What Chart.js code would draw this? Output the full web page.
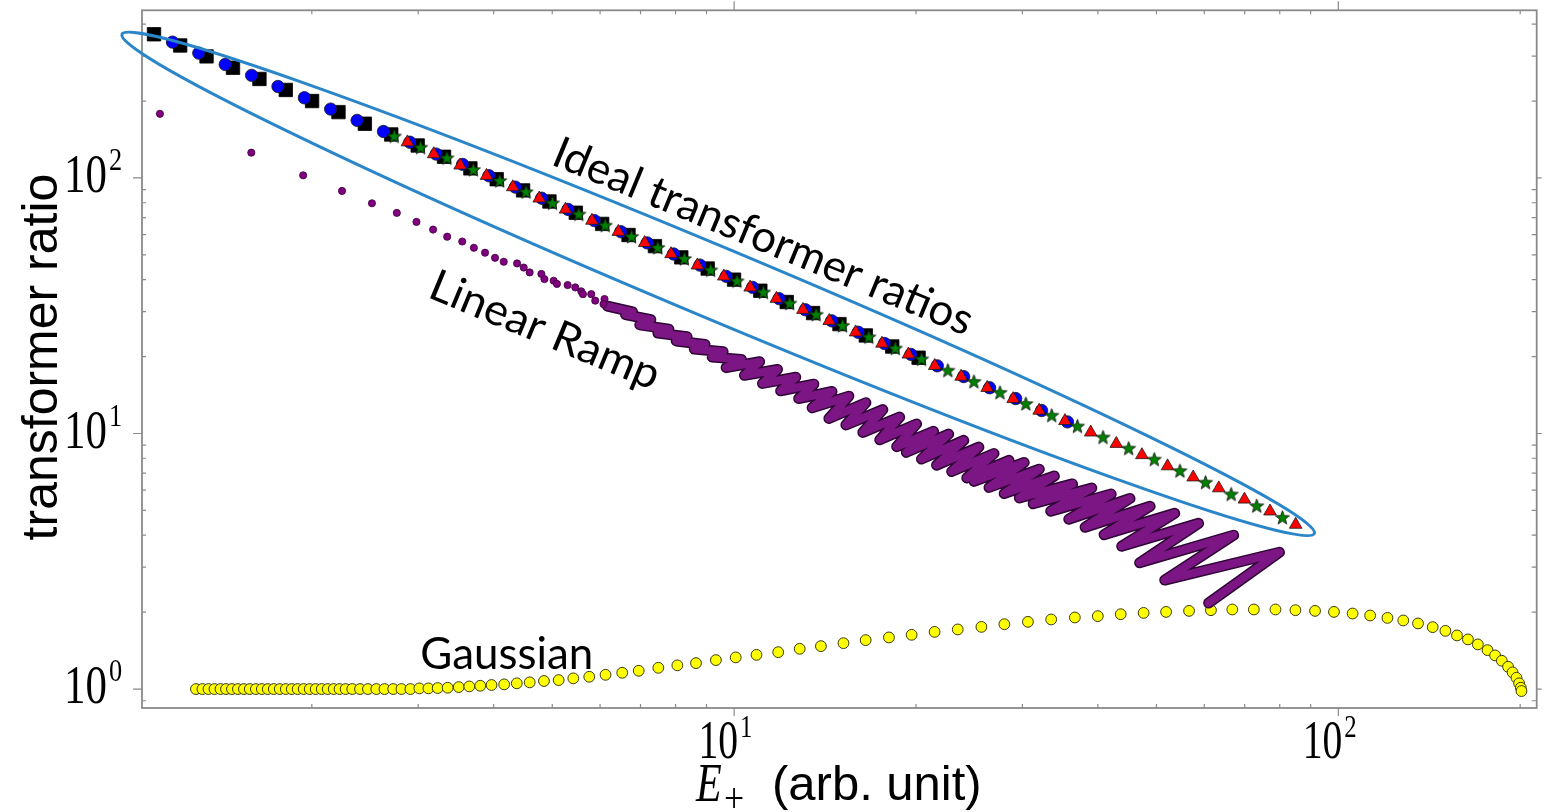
<!DOCTYPE html>
<html>
<head>
<meta charset="utf-8">
<script src="https://cdn.jsdelivr.net/npm/chart.js@4.4.1/dist/chart.umd.min.js"></script>
<style>
  html, body { margin: 0; padding: 0; background: #fff; overflow: hidden; }
  canvas { display: block; }
</style>
</head>
<body>
<canvas id="chart" width="1547" height="812"></canvas>
<script>
/* transformer ratio vs E+ (log-log): ideal pulses, linear ramp, gaussian */

// ── ideal transformer ratios (four pulse shapes) ──
const squareE = [1.096, 1.211, 1.339, 1.481, 1.638, 1.811, 2.002, 2.214, 2.448, 2.707, 2.994, 3.310, 3.660, 4.046, 4.474,
  4.947, 5.470, 6.048, 6.687, 7.395, 8.176, 9.042, 9.996, 11.05, 12.22, 13.51, 14.94, 16.52, 18.27, 20.20];
const squareR = [365, 330, 299, 270, 244, 221, 200, 181, 163, 148, 134, 121, 109, 98.9, 89.4,
  80.9, 73.1, 66.1, 59.8, 54.1, 48.9, 44.2, 40.0, 36.2, 32.7, 29.6, 26.8, 24.2, 21.9, 19.8];

const circleE = [1.176, 1.300, 1.438, 1.590, 1.758, 1.944, 2.149, 2.377, 2.628, 2.906, 3.213, 3.553, 3.929, 4.344, 4.803,
  5.311, 5.872, 6.494, 7.180, 7.939, 8.779, 9.706, 10.73, 11.87, 13.12, 14.51, 16.05, 17.74, 19.62, 21.69,
  23.98, 26.48, 29.24, 32.28, 35.62];
const circleR = [340, 308, 278, 252, 228, 206, 186, 168, 152, 138, 124, 113, 102, 92.1, 83.3,
  75.3, 68.1, 61.6, 55.7, 50.4, 45.6, 41.2, 37.3, 33.7, 30.5, 27.6, 24.9, 22.5, 20.4, 18.4,
  16.7, 15.1, 13.7, 12.3, 11.1];

const triE = [2.879, 3.183, 3.520, 3.892, 4.302, 4.758, 5.260, 5.817, 6.432, 7.112, 7.863, 8.694, 9.614, 10.63, 11.75,
  13.00, 14.37, 15.89, 17.57, 19.43, 21.48, 23.75, 26.23, 28.96, 31.98, 35.28, 38.92, 42.91, 47.31, 52.17,
  57.52, 63.41, 69.93, 77.09, 85.01];
const triR = [138, 124, 112, 102, 92.1, 83.2, 75.3, 68.1, 61.6, 55.7, 50.4, 45.5, 41.2, 37.3, 33.7,
  30.5, 27.6, 24.9, 22.5, 20.4, 18.4, 16.7, 15.1, 13.65, 12.3, 11.2, 10.1, 9.12, 8.24, 7.45,
  6.74, 6.11, 5.52, 4.96, 4.40];

const starE = [2.738, 3.027, 3.347, 3.701, 4.093, 4.525, 5.004, 5.533, 6.118, 6.765, 7.478, 8.271, 9.145, 10.11, 11.18,
  12.36, 13.67, 15.12, 16.71, 18.48, 20.43, 22.58, 24.94, 27.54, 30.40, 33.55, 37.00, 40.79, 44.98, 49.59,
  54.68, 60.29, 66.48, 73.28, 80.81];
const starR = [146, 132, 120, 108, 97.7, 88.4, 79.9, 72.3, 65.4, 59.1, 53.5, 48.4, 43.7, 39.6, 35.8,
  32.4, 29.3, 26.5, 23.9, 21.6, 19.6, 17.7, 16.0, 14.5, 13.1, 11.8, 10.7, 9.69, 8.77, 7.94,
  7.16, 6.45, 5.80, 5.22, 4.70];

// ── linear ramp: separate dots, then the dense oscillating band (turning points) ──
const rampE = [1.121, 1.588, 1.935, 2.244, 2.515, 2.765, 2.98, 3.175, 3.35, 3.548, 3.709, 3.87, 4.02, 4.156, 4.373,
  4.485, 4.588, 4.797, 4.853, 5.027, 5.090, 5.302, 5.459, 5.585, 5.620, 5.801, 5.890, 6.102, 6.078];
const rampR = [178.3, 125.6, 102.4, 89.0, 79.6, 73.0, 67.3, 62.8, 58.9, 56.4, 53.3, 51.0, 48.7, 47.0, 46.3,
  44.6, 42.7, 42.1, 40.2, 39.6, 38.5, 38.1, 37.3, 36.0, 35.1, 35.1, 33.1, 33.6, 32.1];

const bandE = [6.17, 6.79, 6.61, 7.28, 6.98, 7.80, 7.48, 8.36, 8.02, 8.95, 8.59, 9.59, 9.20, 10.28, 9.70,
  11.02, 10.40, 11.80, 11.14, 12.65, 11.94, 13.55, 12.79, 14.52, 13.46, 15.49, 14.35, 16.52, 15.31, 17.62,
  16.33, 18.79, 17.42, 20.04, 18.58, 21.38, 19.28, 22.65, 20.42, 23.99, 21.63, 25.41, 22.91, 26.92, 24.27,
  28.51, 24.95, 30.20, 26.42, 31.99, 27.99, 33.88, 29.65, 36.31, 31.26, 39.08, 33.42, 42.07, 35.8, 45.2,
  38.1, 48.8, 40.95, 53.6, 43.8, 58.7, 46.9, 67.1, 51.6, 79.9, 61.0];
const bandR = [31.5, 29.9, 29.2, 27.9, 26.6, 25.6, 24.7, 23.9, 23.0, 22.3, 21.4, 20.9, 19.9, 19.5, 18.1,
  19.1, 16.9, 17.8, 15.7, 16.6, 14.7, 15.6, 13.7, 14.6, 12.6, 14.0, 11.45, 13.2, 10.8, 12.4,
  10.1, 11.6, 9.45, 10.9, 8.88, 10.2, 8.44, 9.95, 7.95, 9.40, 7.52, 8.85, 7.10, 8.35, 6.70,
  7.85, 6.50, 7.70, 6.15, 7.25, 5.82, 6.82, 5.60, 6.35, 5.31, 6.12, 4.97, 5.80, 4.62, 5.57,
  4.30, 5.19, 4.02, 4.87, 3.62, 4.45, 3.12, 4.00, 2.67, 3.43, 2.17];

// ── gaussian ──
const gaussE = [1.286, 1.318, 1.349, 1.380, 1.412, 1.442, 1.475, 1.509, 1.544, 1.579, 1.616, 1.653, 1.691, 1.730, 1.770,
  1.811, 1.853, 1.895, 1.939, 1.984, 2.030, 2.077, 2.125, 2.174, 2.223, 2.275, 2.333, 2.403, 2.477, 2.557,
  2.638, 2.727, 2.814, 2.912, 3.013, 3.119, 3.231, 3.356, 3.501, 3.645, 3.800, 3.967, 4.163, 4.368, 4.588,
  4.845, 5.124, 5.418, 5.757, 6.126, 6.528, 6.952, 7.491, 8.054, 8.648, 9.329, 10.06, 10.89, 11.83, 12.84,
  13.92, 15.17, 16.51, 18.04, 19.67, 21.47, 23.45, 25.66, 28.01, 30.64, 33.48, 36.64, 39.99, 43.64, 47.62,
  51.88, 56.62, 61.55, 66.77, 72.48, 78.70, 84.92, 91.52, 98.37, 105.6, 112.9, 120.6, 128.1, 135.5, 143.3,
  150.4, 157.2, 163.9, 170.2, 176.6, 181.8, 186.5, 191.0, 194.3, 197.2, 199.2, 200.5, 201.0];
const gaussR = [1.0, 1.0, 1.0, 1.0, 1.0, 1.0, 1.0, 1.0, 1.0, 1.0, 1.0, 1.0, 1.0, 1.0, 1.0,
  1.0, 1.0, 1.0, 1.0, 1.0, 1.0, 1.0, 1.0, 1.0, 1.0, 1.0, 1.0, 1.0, 1.0, 1.0,
  1.0, 1.0, 1.0, 1.0, 1.006, 1.006, 1.009, 1.012, 1.018, 1.024, 1.030, 1.037, 1.043, 1.053, 1.062,
  1.075, 1.084, 1.101, 1.117, 1.137, 1.158, 1.179, 1.211, 1.238, 1.263, 1.298, 1.330, 1.361, 1.394, 1.437,
  1.472, 1.512, 1.554, 1.592, 1.630, 1.674, 1.711, 1.751, 1.794, 1.832, 1.872, 1.906, 1.929, 1.963, 1.986,
  2.004, 2.022, 2.035, 2.048, 2.048, 2.048, 2.035, 2.022, 2.004, 1.975, 1.940, 1.899, 1.855, 1.806, 1.747,
  1.689, 1.621, 1.564, 1.495, 1.420, 1.354, 1.290, 1.222, 1.162, 1.107, 1.053, 1.012, 0.982];

// ── axes ──
const xRange = [1.047, 213];
const yRange = [0.843, 453];
const xMajor = [10, 100];
const xTickLabels = [['10', '1'], ['10', '2']];
const yMajor = [1, 10, 100];
const yTickLabels = [['10', '0'], ['10', '1'], ['10', '2']];

// ── overlays (in data coordinates) ──
const ellipseEnds = [[0.97, 365], [91.3, 4.06]];
const notes = [
  { text: 'Ideal transformer ratios', e: 11.17, r: 58.8, angle: 22.5, width: 450 },
  { text: 'Linear Ramp', e: 4.86, r: 25.3, angle: 22.5, width: 245 },
  { text: 'Gaussian', e: 4.205, r: 1.358, angle: 0, width: 173 },
];

function pts(xs, ys) { return xs.map(function (v, i) { return { x: v, y: ys[i] }; }); }

function starImage(r, fill) {
  var c = document.createElement('canvas');
  var s = Math.ceil(r * 2 + 4);
  c.width = c.height = s;
  var g = c.getContext('2d');
  g.translate(s / 2, s / 2 + r * 0.1);
  g.beginPath();
  for (var i = 0; i < 10; i++) {
    var rr = i % 2 ? r * 0.42 : r;
    var a = -Math.PI / 2 + i * Math.PI / 5;
    g.lineTo(rr * Math.cos(a), rr * Math.sin(a));
  }
  g.closePath();
  g.fillStyle = fill; g.fill();
  g.lineWidth = 0.8; g.strokeStyle = '#111'; g.stroke();
  return c;
}

function logTicks(min, max) {
  var out = [];
  for (var e = Math.floor(Math.log10(min)); e <= Math.ceil(Math.log10(max)); e++) {
    for (var m = 1; m <= 9; m++) {
      var v = m * Math.pow(10, e);
      if (v >= min && v <= max) out.push({ v: v, major: m === 1 });
    }
  }
  return out;
}

function txt(ctx, s, font, x, y, sx, align) {
  ctx.save();
  ctx.font = font;
  ctx.textAlign = align || 'left';
  ctx.textBaseline = 'alphabetic';
  ctx.translate(x, y);
  ctx.scale(sx, 1);
  ctx.fillText(s, 0, 0);
  ctx.restore();
}

/* frame + inward minor / outward major ticks on all four sides */
const framePlugin = {
  id: 'frame',
  afterDatasetsDraw: function (chart) {
    var ctx = chart.ctx, a = chart.chartArea, x = chart.scales.x, y = chart.scales.y;
    ctx.save();
    ctx.strokeStyle = '#8a8a8a';
    ctx.lineWidth = 1.2;
    ctx.beginPath();
    logTicks(x.min, x.max).forEach(function (t) {
      var p = x.getPixelForValue(t.v);
      if (t.major) { ctx.moveTo(p, a.bottom); ctx.lineTo(p, a.bottom + 8); ctx.moveTo(p, a.top); ctx.lineTo(p, a.top - 9); }
      else { ctx.moveTo(p, a.bottom); ctx.lineTo(p, a.bottom - 4); ctx.moveTo(p, a.top); ctx.lineTo(p, a.top + 4); }
    });
    logTicks(y.min, y.max).forEach(function (t) {
      var p = y.getPixelForValue(t.v);
      if (t.major) { ctx.moveTo(a.left, p); ctx.lineTo(a.left - 9, p); ctx.moveTo(a.right, p); ctx.lineTo(a.right + 5, p); }
      else { ctx.moveTo(a.left, p); ctx.lineTo(a.left + 4, p); ctx.moveTo(a.right, p); ctx.lineTo(a.right - 5, p); }
    });
    ctx.stroke();
    ctx.lineWidth = 1.8;
    ctx.strokeRect(a.left, a.top, a.right - a.left, a.bottom - a.top);
    ctx.restore();
  },
  afterDraw: function (chart) {
    var ctx = chart.ctx, x = chart.scales.x, y = chart.scales.y;
    ctx.save();
    ctx.fillStyle = '#000';
    var main = '55px "Liberation Serif", "DejaVu Serif", serif';
    var sup = '31px "Liberation Serif", "DejaVu Serif", serif';
    xMajor.forEach(function (v, i) {
      var p = x.getPixelForValue(v);
      txt(ctx, xTickLabels[i][0], main, p + 4, 758, 0.72, 'right');
      txt(ctx, xTickLabels[i][1], sup, p + 6, 737, 0.8, 'left');
    });
    yMajor.forEach(function (v, i) {
      var p = y.getPixelForValue(v);
      txt(ctx, yTickLabels[i][0], main, 107, p + 14, 0.78, 'right');
      txt(ctx, yTickLabels[i][1], sup, 109, p - 8, 0.85, 'left');
    });
    // x title: E_+ (arb. unit)
    txt(ctx, 'E', 'italic 54px "Liberation Serif", serif', 696, 801, 0.78, 'left');
    txt(ctx, '+', '42px "Liberation Serif", serif', 724, 812, 0.85, 'left');
    txt(ctx, '(arb. unit)', '49px "Liberation Sans", Arial, sans-serif', 772, 800, 1, 'left');
    // y title
    ctx.save();
    ctx.translate(57, 357);
    ctx.rotate(-Math.PI / 2);
    ctx.font = '50px "Liberation Sans", Arial, sans-serif';
    ctx.textAlign = 'center';
    ctx.textBaseline = 'alphabetic';
    ctx.fillText('transformer ratio', 0, 0);
    ctx.restore();
    ctx.restore();
  }
};

/* hand-drawn overlays: the blue ellipse and the three captions */
const notesPlugin = {
  id: 'notes',
  afterDraw: function (chart) {
    var ctx = chart.ctx, x = chart.scales.x, y = chart.scales.y;
    var p0 = [x.getPixelForValue(ellipseEnds[0][0]), y.getPixelForValue(ellipseEnds[0][1])];
    var p1 = [x.getPixelForValue(ellipseEnds[1][0]), y.getPixelForValue(ellipseEnds[1][1])];
    var cx = (p0[0] + p1[0]) / 2, cy = (p0[1] + p1[1]) / 2;
    var semi = Math.hypot(p1[0] - p0[0], p1[1] - p0[1]) / 2;
    var ang = Math.atan2(p1[1] - p0[1], p1[0] - p0[0]);
    ctx.save();
    ctx.beginPath();
    ctx.ellipse(cx, cy, semi, 36, ang, 0, Math.PI * 2);
    ctx.strokeStyle = '#2a86c8';
    ctx.lineWidth = 3;
    ctx.stroke();
    ctx.fillStyle = '#000';
    notes.forEach(function (n) {
      ctx.save();
      ctx.font = '44px Lato, "Open Sans", sans-serif';
      var w = ctx.measureText(n.text).width;
      ctx.translate(x.getPixelForValue(n.e), y.getPixelForValue(n.r));
      ctx.rotate(n.angle * Math.PI / 180);
      ctx.scale(n.width / w, 1);
      ctx.textAlign = 'center';
      ctx.textBaseline = 'middle';
      ctx.fillText(n.text, 0, 0);
      ctx.restore();
    });
    ctx.restore();
  }
};

const edge = '#1c1c1c';
new Chart(document.getElementById('chart'), {
  type: 'scatter',
  data: {
    datasets: [
      { label: 'star', data: pts(starE, starR), pointStyle: starImage(7.4, '#008000'), pointRadius: 7, order: 1 },
      { label: 'triangle', data: pts(triE, triR), pointStyle: 'triangle', pointRadius: 7.3, backgroundColor: '#ff0000', borderColor: edge, borderWidth: 0.8, order: 2 },
      { label: 'circle', data: pts(circleE, circleR), pointStyle: 'circle', pointRadius: 6.2, backgroundColor: '#0000ff', borderColor: edge, borderWidth: 0.8, order: 3 },
      { label: 'square', data: pts(squareE, squareR), pointStyle: 'rect', pointRadius: 9.5, backgroundColor: '#000000', borderColor: '#000000', borderWidth: 0.8, order: 4 },
      { label: 'ramp', data: pts(rampE, rampR), pointRadius: 3.6, backgroundColor: '#800080', borderColor: '#3a003a', borderWidth: 0.8, order: 5 },
      { label: 'ramp band', data: pts(bandE, bandR), showLine: true, pointRadius: 0, borderColor: '#7d1685', borderWidth: 8, borderJoinStyle: 'round', borderCapStyle: 'round', tension: 0, order: 6 },
      { label: 'ramp band edge', data: pts(bandE, bandR), showLine: true, pointRadius: 0, borderColor: '#2e0535', borderWidth: 11, borderJoinStyle: 'round', borderCapStyle: 'round', tension: 0, order: 7 },
      { label: 'gaussian', data: pts(gaussE, gaussR), pointRadius: 5.4, backgroundColor: '#ffff00', borderColor: '#3a3a10', borderWidth: 1, order: 8 },
    ]
  },
  options: {
    responsive: false,
    animation: false,
    events: [],
    layout: { padding: { left: 142, right: 6, top: 9, bottom: 104 } },
    plugins: { legend: { display: false }, tooltip: { enabled: false } },
    scales: {
      x: { type: 'logarithmic', min: xRange[0], max: xRange[1], grid: { display: false, drawTicks: false }, border: { display: false }, ticks: { display: false } },
      y: { type: 'logarithmic', min: yRange[0], max: yRange[1], grid: { display: false, drawTicks: false }, border: { display: false }, ticks: { display: false } },
    }
  },
  plugins: [framePlugin, notesPlugin]
});
</script>
</body>
</html>
